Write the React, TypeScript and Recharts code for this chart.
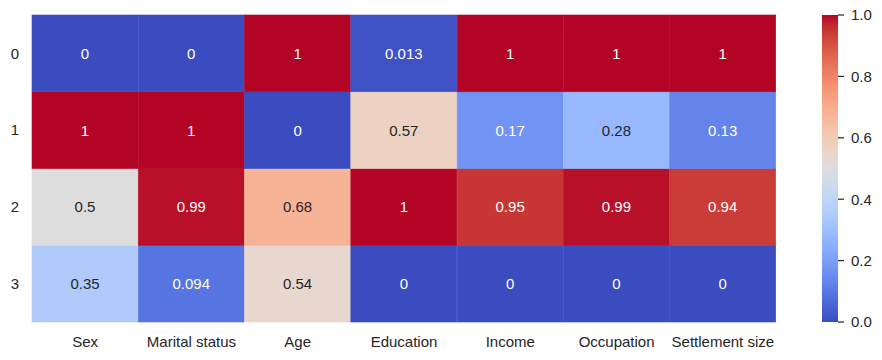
import React from 'react'
import { BarChart, Bar, XAxis, YAxis } from 'recharts'

const columns = ['Sex', 'Marital status', 'Age', 'Education', 'Income', 'Occupation', 'Settlement size']
const rowLabels = ['0', '1', '2', '3']
const row0 = [0, 0, 1, 0.013, 1, 1, 1]
const row1 = [1, 1, 0, 0.57, 0.17, 0.28, 0.13]
const row2 = [0.5, 0.99, 0.68, 1, 0.95, 0.99, 0.94]
const row3 = [0.35, 0.094, 0.54, 0, 0, 0, 0]
const rows = [row0, row1, row2, row3]
const colorbarTicks = [0, 0.2, 0.4, 0.6, 0.8, 1.0]

// coolwarm (Moreland) table, 33 evenly spaced stops
const COOLWARM = [
  [59, 76, 192], [68, 90, 204], [77, 104, 215], [87, 117, 225], [98, 130, 234],
  [108, 142, 241], [119, 154, 247], [130, 165, 251], [141, 176, 254], [152, 185, 255],
  [163, 194, 255], [174, 201, 253], [184, 208, 249], [194, 213, 244], [204, 217, 238],
  [213, 219, 230], [221, 221, 221], [229, 216, 209], [236, 211, 197], [241, 204, 184],
  [245, 196, 172], [247, 187, 159], [247, 177, 147], [247, 166, 134], [244, 154, 123],
  [241, 141, 111], [236, 127, 99], [229, 112, 89], [222, 96, 77], [213, 80, 66],
  [203, 62, 56], [192, 40, 47], [180, 4, 38],
]

function rgbAt(v: number) {
  const t = Math.max(0, Math.min(1, v)) * (COOLWARM.length - 1)
  const i = Math.min(Math.floor(t), COOLWARM.length - 2)
  const f = t - i
  return COOLWARM[i].map((c, k) => c + (COOLWARM[i + 1][k] - c) * f)
}

function coolwarm(v: number) {
  const [r, g, b] = rgbAt(v).map(Math.round)
  return `rgb(${r},${g},${b})`
}

function textColor(v: number) {
  const lin = rgbAt(v).map((c) => {
    const s = c / 255
    return s <= 0.03928 ? s / 12.92 : Math.pow((s + 0.055) / 1.055, 2.4)
  })
  const lum = 0.2126 * lin[0] + 0.7152 * lin[1] + 0.0722 * lin[2]
  return lum > 0.408 ? '#262626' : '#ffffff'
}

// each column gets one unit-high block per row; row 0 sits on top
const table = columns.map((name) => ({ name, r0: 1, r1: 1, r2: 1, r3: 1 }))

const FONT = '"Liberation Sans", Arial, sans-serif'
const INK = '#262626'

function cellShape(rowIdx: number) {
  return (props: any) => {
    const { x, y, width, height, index } = props
    const v = rows[rowIdx][index]
    const fill = coolwarm(v)
    return (
      <g>
        <rect x={x} y={y} width={width} height={height} fill={fill} stroke={fill} strokeWidth={0.6} />
        <text
          x={x + width / 2}
          y={y + height / 2}
          textAnchor="middle"
          dominantBaseline="central"
          fill={textColor(v)}
          fontSize={15}
          fontFamily={FONT}
        >
          {String(v)}
        </text>
      </g>
    )
  }
}

const rowTickLabel = (t: number) => rowLabels[3 - Math.floor(t)]

export default function App() {
  return (
    <div style={{ position: 'absolute', left: 0, top: 0, width: 882, height: 360, background: '#fff' }}>
      <div style={{ position: 'absolute', left: 0, top: 0 }}>
        <BarChart
          width={800}
          height={360}
          data={table}
          margin={{ top: 15, right: 24, bottom: 8, left: 0 }}
          barCategoryGap={0}
          barGap={0}
        >
          <XAxis
            dataKey="name"
            type="category"
            height={30}
            axisLine={false}
            tickLine={false}
            tickSize={0}
            tickMargin={14}
            interval={0}
            tick={{ fill: INK, fontSize: 15, fontFamily: FONT }}
          />
          <YAxis
            type="number"
            domain={[0, 4]}
            ticks={[0.5, 1.5, 2.5, 3.5]}
            tickFormatter={rowTickLabel}
            width={32}
            axisLine={false}
            tickLine={false}
            tickSize={0}
            tickMargin={13}
            tick={{ fill: INK, fontSize: 15, fontFamily: FONT }}
          />
          <Bar dataKey="r3" stackId="h" isAnimationActive={false} shape={cellShape(3)} />
          <Bar dataKey="r2" stackId="h" isAnimationActive={false} shape={cellShape(2)} />
          <Bar dataKey="r1" stackId="h" isAnimationActive={false} shape={cellShape(1)} />
          <Bar dataKey="r0" stackId="h" isAnimationActive={false} shape={cellShape(0)} />
        </BarChart>
      </div>
      <div style={{ position: 'absolute', left: 800, top: 0 }}>
        <BarChart
          width={82}
          height={360}
          data={[{ name: 'cbar', v: 1 }]}
          margin={{ top: 15, right: 0, bottom: 38, left: 22 }}
          barCategoryGap={0}
        >
          <defs>
            <linearGradient id="cbarGrad" x1="0" y1="1" x2="0" y2="0">
              {COOLWARM.map((c, i) => (
                <stop key={i} offset={i / (COOLWARM.length - 1)} stopColor={`rgb(${c[0]},${c[1]},${c[2]})`} />
              ))}
            </linearGradient>
          </defs>
          <XAxis dataKey="name" hide />
          <YAxis
            orientation="right"
            type="number"
            domain={[0, 1]}
            ticks={colorbarTicks}
            tickFormatter={(t: number) => t.toFixed(1)}
            width={44}
            axisLine={false}
            tickLine={{ stroke: INK, strokeWidth: 1.2 }}
            tickSize={6}
            tickMargin={7}
            tick={{ fill: INK, fontSize: 15, fontFamily: FONT }}
          />
          <Bar dataKey="v" fill="url(#cbarGrad)" isAnimationActive={false} />
        </BarChart>
      </div>
    </div>
  )
}
